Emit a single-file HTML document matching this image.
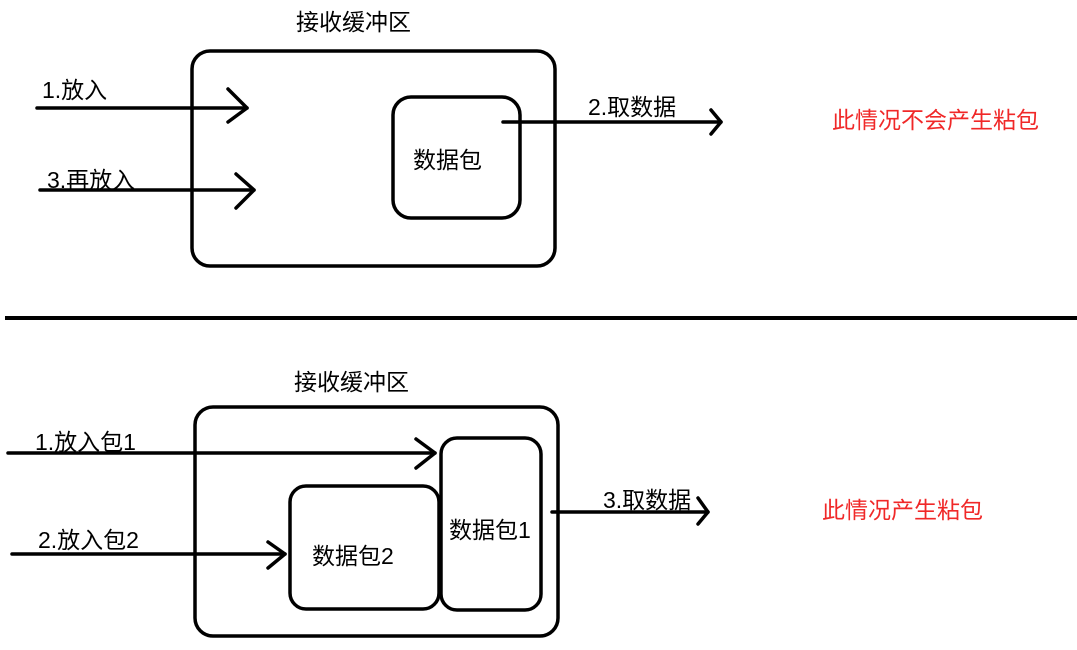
<!DOCTYPE html>
<html><head><meta charset="utf-8"><style>
html,body{margin:0;padding:0;background:#fff;}
svg text{font-family:"Liberation Sans","Noto Sans CJK SC",sans-serif;font-size:23px;fill:#000;}
</style></head><body>
<svg width="1077" height="645" viewBox="0 0 1077 645" xmlns="http://www.w3.org/2000/svg">
<g fill="none" stroke="#000" stroke-width="3.5" stroke-linecap="round" stroke-linejoin="round">
<!-- top -->
<rect x="192" y="51" width="363" height="215" rx="18"/>
<rect x="393" y="97" width="127" height="121" rx="18"/>
<line x1="37" y1="108" x2="247" y2="108"/>
<polyline points="228,89 247,108 228,122"/>
<line x1="40" y1="190" x2="254" y2="190"/>
<polyline points="236,174 254,190 236,208"/>
<line x1="503" y1="122" x2="721" y2="122"/>
<polyline points="711,110 721,122 711,134"/>
<!-- divider -->
<line x1="5" y1="318" x2="1077" y2="318" stroke-width="4" stroke-linecap="butt"/>
<!-- bottom -->
<rect x="195" y="407" width="363" height="229" rx="18"/>
<rect x="441" y="438" width="100" height="172" rx="16"/>
<rect x="290" y="486" width="149" height="123" rx="16"/>
<line x1="8" y1="453" x2="435" y2="453"/>
<polyline points="416,439 435,453 416,468"/>
<line x1="12" y1="554" x2="285" y2="554"/>
<polyline points="268,542 285,554 268,568"/>
<line x1="552" y1="512" x2="708" y2="512"/>
<polyline points="698,498 708,512 698,524"/>
</g>
<text x="296" y="30">接收缓冲区</text>
<text x="42" y="98">1.放入</text>
<text x="47" y="188">3.再放入</text>
<text x="588" y="115">2.取数据</text>
<text x="413" y="168">数据包</text>
<text x="832" y="128" style="fill:#f02828">此情况不会产生粘包</text>

<text x="294" y="390">接收缓冲区</text>
<text x="35" y="450">1.放入包1</text>
<text x="38" y="548">2.放入包2</text>
<text x="603" y="508">3.取数据</text>
<text x="312" y="564">数据包2</text>
<text x="449" y="538">数据包1</text>
<text x="822" y="518" style="fill:#f02828">此情况产生粘包</text>
</svg>
</body></html>
